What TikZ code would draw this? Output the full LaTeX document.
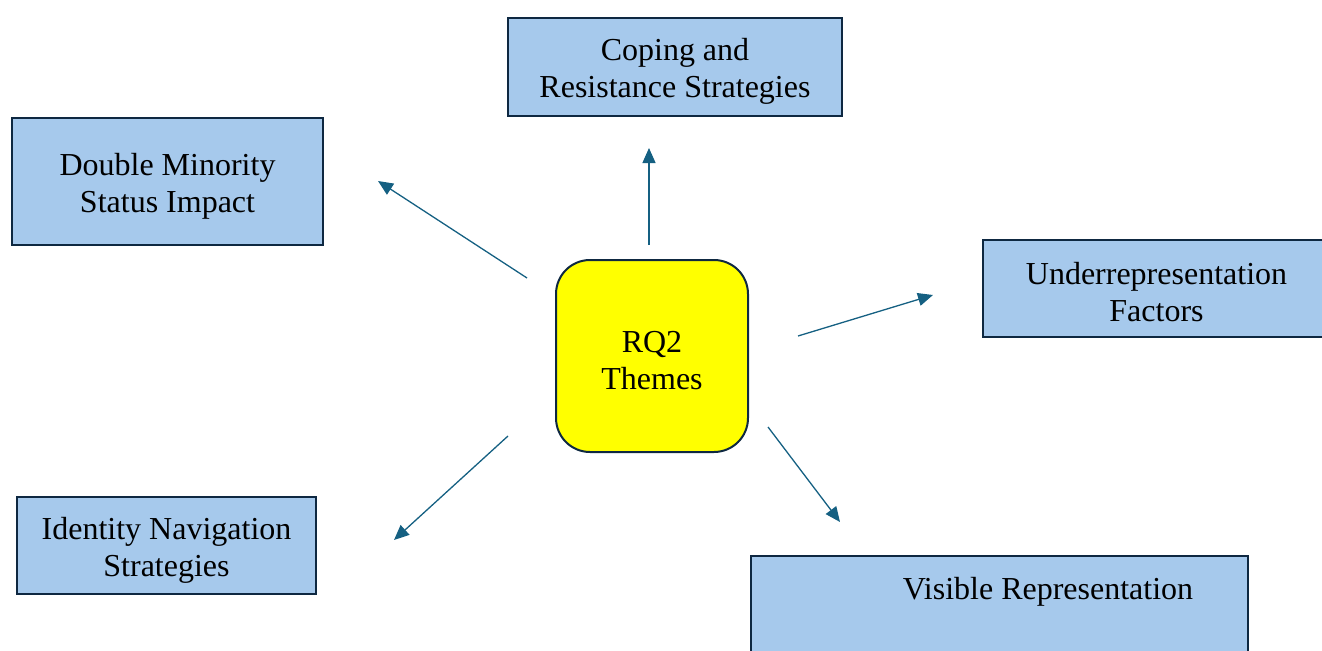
\documentclass[tikz,border=0pt]{standalone}
\usepackage{fontspec}
\setmainfont{Liberation Serif}
\usetikzlibrary{arrows.meta}
\definecolor{boxblue}{HTML}{A6C9EC}
\definecolor{navyline}{HTML}{0E2841}
\definecolor{arrowblue}{HTML}{156082}
\definecolor{hubyellow}{HTML}{FFFF00}
\newcommand\themegap{\rule{0pt}{15.5pt}}

\begin{document}
\begin{tikzpicture}[
  x=0.5pt,
  y=0.5pt,
  >={Triangle[length=7.5pt,width=6.5pt]},
  theme/.style={draw=navyline,fill=boxblue,line width=1pt,align=center,
    inner sep=0pt,font=\fontsize{16}{18.5}\selectfont},
  hub/.style={draw=navyline,fill=hubyellow,line width=1pt,rounded corners=17pt,
    align=center,minimum width=96pt,minimum height=96pt,inner sep=0pt,
    font=\fontsize{16}{18.5}\selectfont},
  link/.style={->,arrowblue,line width=0.65pt}
]
\useasboundingbox (0,0) rectangle (1322,650);

% Central theme
\node[hub] (rq) at (652,294) {\themegap RQ2\\Themes};

% Surrounding themes
\node[theme,minimum width=167pt,minimum height=49pt] (coping) at (675,583)
  {\themegap Coping and\\Resistance Strategies};
\node[theme,minimum width=155.5pt,minimum height=63.5pt] (double) at (167.5,468.5)
  {\themegap Double Minority\\Status Impact};
\node[theme,minimum width=173.5pt,minimum height=48.5pt] (under) at (1156.5,362)
  {\themegap Underrepresentation\\Factors};
\node[theme,minimum width=149.5pt,minimum height=48.5pt] (identity) at (166.5,104.5)
  {\themegap Identity Navigation\\Strategies};
\node[theme,minimum width=248.5pt,minimum height=67pt] (visible) at (999.5,27) {};
\node[font=\fontsize{16}{18.5}\selectfont,inner sep=0pt] (visiblelabel) at (1048,58)
  {Visible Representation};

% Arrow ends
\coordinate (upS) at (649,405);  \coordinate (upE) at (649,502);
\coordinate (ulS) at (527,372);  \coordinate (ulE) at (378,469);
\coordinate (rS)  at (798,314);  \coordinate (rE)  at (933,355);
\coordinate (llS) at (508,214);  \coordinate (llE) at (394,110);
\coordinate (lrS) at (768,223);  \coordinate (lrE) at (840,128);

\draw[link] (upS) -- (upE);
\draw[link] (ulS) -- (ulE);
\draw[link] (rS) -- (rE);
\draw[link] (llS) -- (llE);
\draw[link] (lrS) -- (lrE);

\end{tikzpicture}
\end{document}
